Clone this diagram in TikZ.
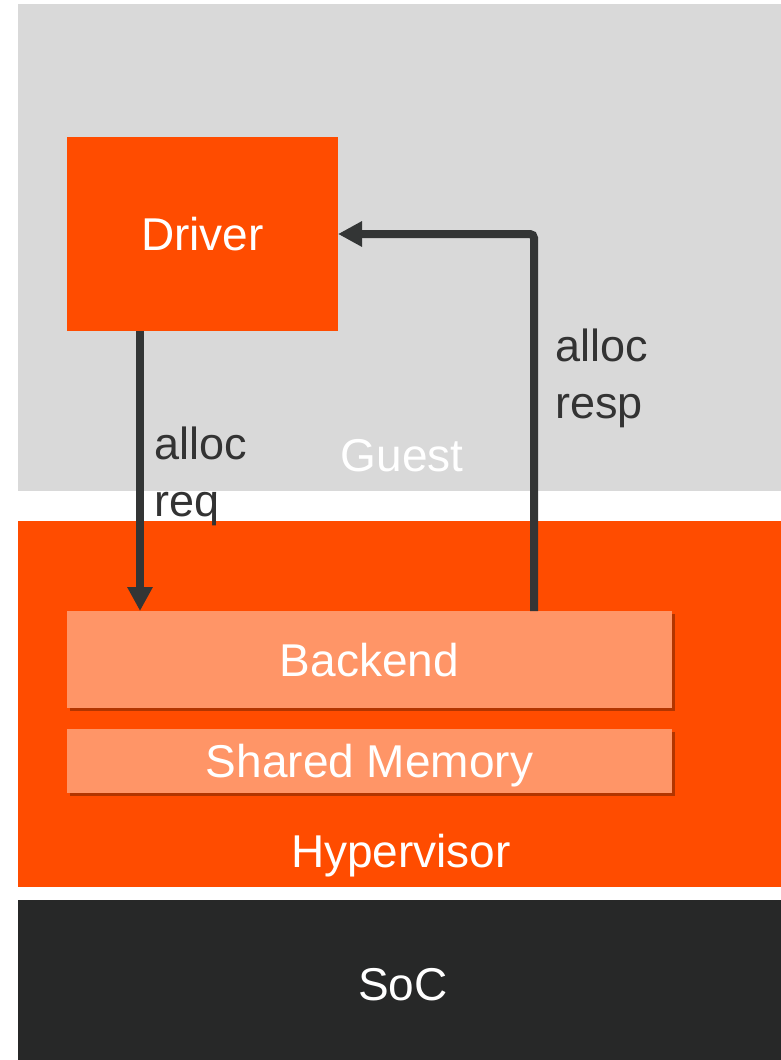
\documentclass[tikz,border=0pt]{standalone}
\usepackage{fontspec}
\setmainfont{Liberation Sans}
\usetikzlibrary{arrows.meta,shadows}
\definecolor{vorange}{HTML}{FF4C00}
\definecolor{vlight}{HTML}{FF9567}
\definecolor{vgrey}{HTML}{D9D9D9}
\definecolor{vsoc}{HTML}{272828}
\definecolor{varrow}{HTML}{333535}
\definecolor{vtext}{HTML}{333333}
\tikzset{
  block/.style={draw=none, inner sep=0pt, outer sep=0pt, text=white,
    font=\fontsize{46}{56}\selectfont, text depth=0pt},
  subblock/.style={block, fill=vlight,
    drop shadow={shadow xshift=3pt, shadow yshift=-3pt, opacity=0.3, fill=black}},
  layerlabel/.style={inner sep=0pt, anchor=base, font=\fontsize{46}{56}\selectfont},
  msglabel/.style={inner sep=0pt, anchor=base west, text=vtext, align=left,
    font=\fontsize{45}{57}\selectfont},
  flow/.style={draw=varrow, line width=8pt, rounded corners=4pt,
    -{Triangle[width=24pt,length=24pt]}},
}
\begin{document}
\begin{tikzpicture}[x=1pt,y=-1pt]
  \path[fill=white] (0,0) rectangle (781,1060);
  \useasboundingbox (0,0) rectangle (781,1060);

  % layers
  \path[fill=vgrey] (18,4) rectangle (781,491);
  \path[fill=vorange] (18,521) rectangle (781,887);
  \path[fill=vsoc] (18,900) rectangle (781,1060);

  % layer labels
  \node[layerlabel, text=white] (guest) at (402,471) {Guest};
  \node[layerlabel, text=white] (hyp) at (401,867) {Hypervisor};
  \node[layerlabel, text=white] (soc) at (403,1000) {SoC};

  % blocks
  \node[block, fill=vorange, minimum width=271pt, minimum height=194pt]
    (driver) at (202.5,234) {Driver};
  \node[subblock, minimum width=605pt, minimum height=97pt]
    (backend) at (369.5,659.5) {Backend};
  \node[subblock, minimum width=605pt, minimum height=64pt]
    (shmem) at (369.5,761) {Shared Memory};

  % messages
  \draw[flow] ([xshift=73pt]driver.south west) -- ([xshift=73pt]backend.north west);
  \draw[flow] ([xshift=467pt]backend.north west) |- (driver.east);

  % base anchor of a two-line label sits on its last line
  \node[msglabel] (req) at (154,516) {alloc\\req};
  \node[msglabel] (resp) at (555,418) {alloc\\resp};
\end{tikzpicture}
\end{document}
